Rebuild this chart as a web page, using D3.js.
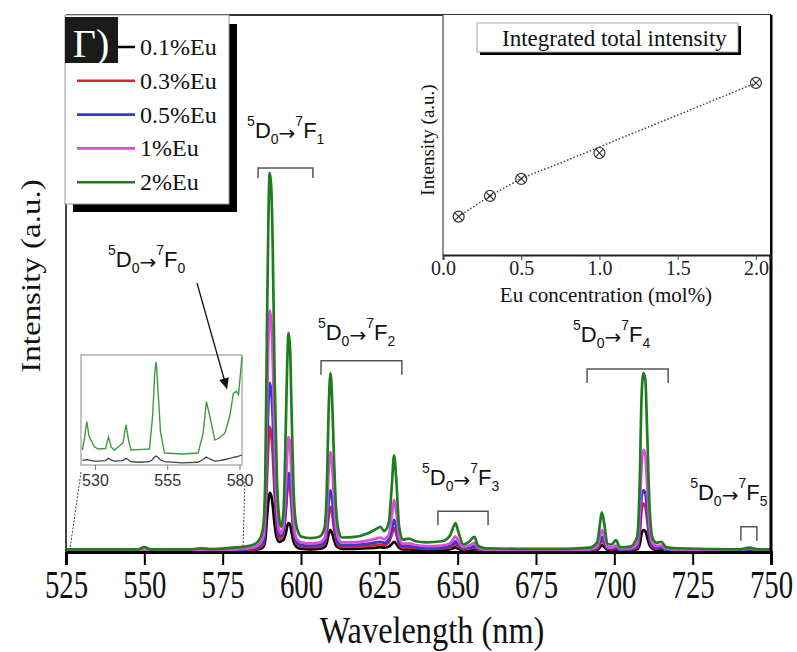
<!DOCTYPE html>
<html><head><meta charset="utf-8">
<script src="https://cdn.jsdelivr.net/npm/d3@7"></script>
<style>body{margin:0;background:#fff}svg{display:block}</style>
</head><body>
<svg id="c" width="797" height="652"></svg>
<script>
// ---------- main spectrum data (a.u.) ----------
const wavelength = [525,540,548,550,552,565,568,571,578,582,585,587,
 588,588.6,589.1,589.6,590,590.5,591,591.6,592.3,593.1,593.7,594.4,595.1,595.6,596,596.5,597,597.6,598.5,
 600,603,606,607.5,608.2,608.8,609.4,609.9,610.5,611.2,612,
 613,617,621,624,625.3,626.5,628,629,629.7,630.4,631.3,632.5,634.5,636.5,640,645,
 647.5,648.6,649.3,650.2,651.8,653.8,655.3,656.5,659,670,685,692,
 694.5,695.4,696,696.7,697.8,699.2,700.5,701.8,705,
 707.3,708.1,708.7,709.3,709.9,710.5,711.2,712.2,713.5,715,716.5,720,
 740,743,746,750];
const eu01 = [.15,.15,.15,.2,.15,.15,.2,.15,.2,.25,.4,.6,
 1.0,2.2,6,9.5,11,10.5,8.5,5,2.6,1.9,2.0,2.3,3.3,4.8,5.4,5.1,3.6,2.0,1.0,
 .6,.5,.6,.9,1.6,3.3,4.1,3.6,2.3,1.2,.8,
 .6,.6,.7,.8,.9,.8,1.0,1.5,1.9,1.5,.8,.5,.5,.4,.35,.4,
 .5,.7,.9,.6,.3,.35,.5,.3,.2,.15,.15,.2,
 .4,.9,1.3,1.0,.4,.3,.4,.25,.3,
 .5,1.4,3.4,4.1,3.9,2.7,1.3,.6,.4,.45,.25,.15,
 .15,.3,.15,.15];
const eu03 = [.2,.2,.2,.25,.2,.2,.25,.2,.25,.3,.5,.9,
 1.5,4.5,13,20,23.3,22,18,10.5,4.5,2.6,2.5,3.3,7,11,12.8,12,8,3.8,1.6,
 1.0,.9,1.0,1.5,3,6.5,8.4,7.3,4.5,2.2,1.2,
 1.0,1.0,1.1,1.3,1.4,1.3,1.8,3.3,4.5,3.4,1.4,.8,.8,.7,.6,.65,
 .9,1.2,1.5,1.1,.5,.6,.8,.45,.3,.2,.2,.25,
 .6,1.5,2.1,1.6,.6,.5,.7,.4,.4,
 .8,3.3,7.7,9.0,8.5,5.8,2.5,.9,.6,.7,.35,.25,
 .2,.4,.2,.2];
const eu05 = [.25,.25,.25,.3,.25,.25,.3,.25,.35,.45,.7,1.2,
 2,6,17.5,27.5,31.5,30,24.5,14,6,3.2,3.0,4,8,12.5,14.7,13.8,9.5,4.5,2.0,
 1.3,1.2,1.3,1.8,4,9,11.5,10,6.2,3,1.6,
 1.3,1.3,1.5,1.8,1.9,1.7,2.3,4.2,6.0,4.6,1.8,1.1,1.1,.9,.8,.85,
 1.1,1.6,2.0,1.4,.7,.8,1.1,.55,.35,.3,.3,.35,
 .8,2.0,2.8,2.2,.7,.6,.9,.5,.5,
 1.1,4.5,10,11.5,11,7.5,3.2,1.1,.8,.9,.45,.3,
 .25,.5,.25,.25];
const eu1 = [.3,.3,.3,.4,.3,.3,.35,.3,.45,.6,.9,1.6,
 3,8.5,25,39,45,43,35,20,8.5,4,3.5,5,11.5,18,21.4,20,13.5,6.5,2.6,
 1.8,1.6,1.8,2.6,6,14.5,18.6,16.2,10,4.5,2.4,
 1.8,1.8,2.1,2.5,2.7,2.4,3.2,6.8,9.7,7.4,2.8,1.5,1.6,1.3,1.1,1.2,
 1.6,2.4,2.9,2.0,.9,1.2,1.7,.8,.45,.35,.35,.45,
 1.0,2.8,4.1,3.1,.9,.8,1.2,.6,.65,
 1.5,7,16,19,18,12,5,1.6,1.1,1.2,.6,.4,
 .3,.7,.3,.3];
const eu2 = [.5,.5,.5,.9,.5,.5,.7,.55,.8,1.0,1.4,2.6,
 5,14,40,62,70.6,68,56,32,14,6,4.7,7.5,22,35,40.8,38,26,12,5,
 2.9,2.6,2.9,4.5,11,26,33.3,29,18,8,4.0,
 2.7,2.8,3.4,4.3,4.7,3.9,5.4,12.5,18,13.5,4.8,2.3,2.5,2.0,1.8,2.0,
 3.0,4.6,5.4,3.8,1.4,2.0,2.8,1.2,.7,.6,.6,.8,
 1.8,5.2,7.4,5.6,1.5,1.4,2.2,.9,1.0,
 2.8,13,29,33.3,32,22,9,2.6,1.7,1.9,.9,.7,
 .5,.8,.5,.5];
const seriesNames  = ["0.1%Eu","0.3%Eu","0.5%Eu","1%Eu","2%Eu"];
const seriesColors = ["#000000","#d8232f","#2b3fd0","#e04ae0","#1f7d1f"];
const xMajorTicks = [525,550,575,600,625,650,675,700,725,750];
const xMinorTicks = [537.5,562.5,587.5,612.5,637.5,662.5,687.5,712.5,737.5];

// ---------- transition annotations ----------
const transSub   = ["0","1","2","3","4","5"];
const transLabWl = [538.4,582.8,605.4,638.6,686.8,724.2];
const transLabI  = [53.1,77.1,39.5,12.5,39.1,9.7];
const bracketStart = [586.3,606.4,643.7,691.3,740.4];
const bracketEnd   = [603.8,632.2,659.7,717.2,745.5];
const bracketLevel = [71.5,35.6,7.6,34.1,4.7];
const arrowFrom = [566.8,50.1];
const arrowTo   = [576.3,30.5];

// ---------- zoomed 530-580 inset ----------
const zoomWl    = [525.5,526.3,527,527.8,529.6,531,533.5,534.5,535.5,536.6,539.5,540.6,541.5,542.3,545,548.7,549.8,550.5,551,551.6,552.5,553.9,560,565.5,567.2,568.4,569.5,571.3,573,574.8,576.5,577.7,578.8,579.5,580.7];
const zoomGreen = [1.36,2.6,3.94,2.6,1.66,1.45,1.5,2.55,1.6,1.36,2.0,3.64,2.2,1.36,1.4,1.45,4.5,8.3,9.39,7.0,3.0,1.09,1.0,1.09,2.8,5.75,4.5,2.27,2.5,2.9,4.5,6.5,6.7,6.4,9.85];
const zoomBlack = [0.45,0.45,0.5,0.45,0.35,0.35,0.4,0.6,0.45,0.35,0.4,0.6,0.45,0.3,0.25,0.3,0.5,0.75,0.82,0.7,0.45,0.3,0.2,0.25,0.5,0.73,0.55,0.35,0.4,0.5,0.6,0.7,0.75,0.8,0.91];
const zoomTicks = [530,555,580];

// ---------- integrated intensity inset ----------
const concentration  = [0.1,0.3,0.5,1.0,2.0];
const totalIntensity = [1.6,2.46,3.17,4.25,7.17];
const fitConc      = [0.1,0.3,0.5,0.75,1.0,1.25,1.5,1.75,2.0];
const fitIntensity = [1.6,2.45,3.17,3.83,4.5,5.17,5.83,6.5,7.17];
const insetTicks = [0,0.5,1.0,1.5,2.0];
const insetMinor = [0.25,0.75,1.25,1.75];

const svg = d3.select("#c");
const serif = "'Liberation Serif','Times New Roman',serif";
const sans = "'Liberation Sans',Arial,sans-serif";

const x = d3.scaleLinear().domain([525,750]).range([66,771]);
const y = d3.scaleLinear().domain([0,100]).range([552,15]);

const defs = svg.append("defs");
defs.append("clipPath").attr("id","pc").append("rect").attr("x",66).attr("y",15).attr("width",705).attr("height",537);
defs.append("marker").attr("id","ah").attr("viewBox","0 0 10 10").attr("refX",9).attr("refY",5)
  .attr("markerWidth",17).attr("markerHeight",11).attr("orient","auto").attr("markerUnits","userSpaceOnUse")
  .append("path").attr("d","M0,0.5L10,5L0,9.5Z").attr("fill","#111");

// curves
const series = [eu01,eu03,eu05,eu1,eu2];
const line = d3.line().x(d=>x(d[0])).y(d=>y(d[1])).curve(d3.curveMonotoneX);
const cg = svg.append("g").attr("clip-path","url(#pc)");
series.forEach((s,i)=>{
  cg.append("path").attr("d", line(wavelength.map((w,j)=>[w,s[j]])))
    .attr("fill","none").attr("stroke",seriesColors[i]).attr("stroke-width",2.7).attr("stroke-linejoin","round");
});

// axis
const ax = svg.append("g").attr("transform","translate(0,552)");
ax.call(d3.axisBottom(x).tickValues(xMinorTicks).tickSize(8).tickFormat(""));
ax.call(d3.axisBottom(x).tickValues(xMajorTicks).tickSize(13).tickFormat(d3.format("d")));
ax.select(".domain").attr("stroke","#000").attr("stroke-width",3);
ax.selectAll(".tick line").attr("stroke","#000").attr("stroke-width",2);
ax.selectAll(".tick text").attr("font-family",serif).attr("font-size",40).attr("fill","#111")
  .attr("y",46).attr("dy",0).attr("transform","scale(0.72,1)");

// frame
svg.append("line").attr("x1",x(525)).attr("x2",x(525)).attr("y1",15).attr("y2",552).attr("stroke","#444").attr("stroke-width",2);
svg.append("line").attr("x1",x(525)).attr("x2",x(750)).attr("y1",15).attr("y2",15).attr("stroke","#333").attr("stroke-width",2);
svg.append("line").attr("x1",x(750)).attr("x2",x(750)).attr("y1",15).attr("y2",553).attr("stroke","#000").attr("stroke-width",3);

// axis titles
svg.append("text").attr("transform","translate(432,643) scale(0.83,1)").attr("text-anchor","middle")
  .attr("font-family",serif).attr("font-size",39).attr("fill","#111").text("Wavelength (nm)");
svg.append("text").attr("transform","translate(40,276) rotate(-90) scale(1,0.8)").attr("text-anchor","middle")
  .attr("font-family",serif).attr("font-size",33).attr("fill","#111").text("Intensity (a.u.)");

// transition labels
function transLabel(px,py,sub){
  const t = svg.append("text").attr("x",px).attr("y",py).attr("font-family",sans).attr("fill","#111");
  t.append("tspan").attr("font-size",14).attr("dy",-12).text("5");
  t.append("tspan").attr("font-size",22).attr("dy",12).text("D");
  t.append("tspan").attr("font-size",14).attr("dy",6).text("0");
  t.append("tspan").attr("font-size",20).attr("font-family","'DejaVu Sans',sans-serif").attr("dy",-4).text("→");
  t.append("tspan").attr("font-size",14).attr("dy",-14).text("7");
  t.append("tspan").attr("font-size",22).attr("dy",12).text("F");
  t.append("tspan").attr("font-size",14).attr("dy",6).text(sub);
}
transSub.forEach((s,i)=>transLabel(x(transLabWl[i]),y(transLabI[i]),s));
bracketStart.forEach((b,i)=>{
  const x1=x(b), x2=x(bracketEnd[i]), yy=y(bracketLevel[i]), h = i===0?10:14;
  svg.append("path").attr("d",`M${x1},${yy+h}V${yy}H${x2}V${yy+h}`).attr("fill","none").attr("stroke","#555").attr("stroke-width",1.5);
});

// ---------- zoom inset ----------
const zx = d3.scaleLinear().domain([525,580.7]).range([81,242]);
const zy = d3.scaleLinear().domain([0,10]).range([465,355]);
const zg = svg.append("g");
zg.append("rect").attr("x",81).attr("y",355).attr("width",161).attr("height",110).attr("fill","#fff").attr("stroke","#8a8a8a").attr("stroke-width",1);
const zline = d3.line().x(d=>zx(d[0])).y(d=>zy(d[1]));
zg.append("path").attr("d",zline(zoomWl.map((w,j)=>[w,zoomGreen[j]]))).attr("fill","none").attr("stroke","#3f9a3f").attr("stroke-width",1.4);
zg.append("path").attr("d",zline(zoomWl.map((w,j)=>[w,zoomBlack[j]]))).attr("fill","none").attr("stroke","#444").attr("stroke-width",1.3);
zoomTicks.forEach(t=>{
  zg.append("line").attr("x1",zx(t)).attr("x2",zx(t)).attr("y1",465).attr("y2",470).attr("stroke","#777");
  zg.append("text").attr("x",zx(t)).attr("y",486).attr("text-anchor","middle").attr("font-family",sans).attr("font-size",16).attr("fill","#333").text(t);
});
// connectors
svg.append("line").attr("x1",81).attr("y1",472).attr("x2",x(525)+4).attr("y2",549).attr("stroke","#444").attr("stroke-width",1).attr("stroke-dasharray","2,1.5");
svg.append("line").attr("x1",245).attr("y1",478).attr("x2",x(581.5)).attr("y2",547).attr("stroke","#444").attr("stroke-width",1).attr("stroke-dasharray","2,1.5");

// arrow (drawn over the zoom inset)
svg.append("line").attr("x1",x(arrowFrom[0])).attr("y1",y(arrowFrom[1])).attr("x2",x(arrowTo[0])).attr("y2",y(arrowTo[1]))
  .attr("stroke","#111").attr("stroke-width",1.3).attr("marker-end","url(#ah)");

// ---------- integrated intensity inset ----------
const ix = d3.scaleLinear().domain([0,2.09]).range([443,770]);
const iy = d3.scaleLinear().domain([0,10]).range([255,15]);
const ig = svg.append("g");
ig.append("rect").attr("x",443).attr("y",15).attr("width",327).attr("height",240).attr("fill","#fff");
ig.append("line").attr("x1",443).attr("x2",443).attr("y1",15).attr("y2",255).attr("stroke","#555").attr("stroke-width",1.3);
const iax = ig.append("g").attr("transform","translate(0,255)");
iax.call(d3.axisBottom(ix).tickValues(insetMinor).tickSize(4).tickFormat(""));
iax.call(d3.axisBottom(ix).tickValues(insetTicks).tickSize(5).tickFormat(d3.format(".1f")));
iax.select(".domain").attr("stroke","#222").attr("stroke-width",2);
iax.selectAll(".tick line").attr("stroke","#444");
iax.selectAll(".tick text").attr("font-family",serif).attr("font-size",20).attr("fill","#222").attr("y",20).attr("dy",0);
ig.append("text").attr("x",606).attr("y",302).attr("text-anchor","middle").attr("font-family",serif).attr("font-size",21).attr("fill","#111").text("Eu concentration (mol%)");
ig.append("text").attr("transform","translate(434,140) rotate(-90)").attr("text-anchor","middle").attr("font-family",serif).attr("font-size",19).attr("fill","#111").text("Intensity (a.u.)");
const fl = d3.line().x(d=>ix(d[0])).y(d=>iy(d[1])).curve(d3.curveMonotoneX);
ig.append("path").attr("d",fl(fitConc.map((c,j)=>[c,fitIntensity[j]]))).attr("fill","none").attr("stroke","#444").attr("stroke-width",1.5).attr("stroke-dasharray","1.5,2");
concentration.forEach((c,j)=>{
  const cx=ix(c), cy=iy(totalIntensity[j]);
  ig.append("circle").attr("cx",cx).attr("cy",cy).attr("r",5.5).attr("fill","none").attr("stroke","#333").attr("stroke-width",1.2);
  ig.append("path").attr("d",`M${cx-3.8},${cy-3.8}L${cx+3.8},${cy+3.8}M${cx-3.8},${cy+3.8}L${cx+3.8},${cy-3.8}`).attr("stroke","#333").attr("stroke-width",1.1);
});
// inset title box
ig.append("rect").attr("x",480).attr("y",26).attr("width",261).attr("height",29).attr("fill","#000");
ig.append("rect").attr("x",477).attr("y",23).attr("width",261).attr("height",29).attr("fill","#fff").attr("stroke","#aaa").attr("stroke-width",1);
ig.append("text").attr("x",502).attr("y",46).attr("font-family",serif).attr("font-size",23).attr("fill","#111").text("Integrated total intensity");

// ---------- legend ----------
const lg = svg.append("g");
lg.append("rect").attr("x",73).attr("y",24).attr("width",164).attr("height",188).attr("fill","#000");
lg.append("rect").attr("x",65).attr("y",15).attr("width",164).attr("height",189).attr("fill","#fff").attr("stroke","#999").attr("stroke-width",1);
seriesNames.forEach((n,i)=>{
  const yy = 47 + i*33.8;
  lg.append("line").attr("x1",77).attr("x2",135).attr("y1",yy).attr("y2",yy).attr("stroke",seriesColors[i]).attr("stroke-width",2.6);
  lg.append("text").attr("x",140).attr("y",yy+8).attr("font-family",serif).attr("font-size",24).attr("fill","#111").text(n);
});
lg.append("rect").attr("x",65).attr("y",17).attr("width",53).attr("height",46).attr("fill","#1a1a1a");
lg.append("text").attr("x",91).attr("y",57).attr("text-anchor","middle").attr("font-family",serif).attr("font-size",40).attr("fill","#fff").text("Г)");
</script>
</body></html>
